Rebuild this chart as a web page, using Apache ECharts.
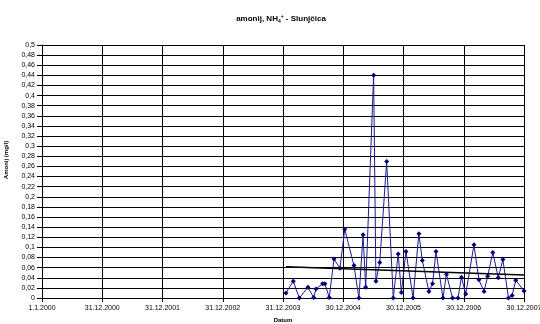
<!DOCTYPE html>
<html>
<head>
<meta charset="utf-8">
<script src="https://cdn.jsdelivr.net/npm/echarts@6/dist/echarts.min.js"></script>
<style>
  html, body { margin: 0; padding: 0; background: #fff; }
  #chart { width: 540px; height: 324px; }
</style>
</head>
<body>
<div id="chart"></div>
<script>
// Sampling dates and ammonium concentrations (mg/l)
const sampleDates = [
  '2004-01-18', '2004-03-02', '2004-04-08', '2004-05-30', '2004-07-04', '2004-07-18',
  '2004-08-27', '2004-09-10', '2004-10-06', '2004-11-04', '2004-12-10', '2005-01-08',
  '2005-03-05', '2005-04-04', '2005-04-29', '2005-05-15', '2005-07-02', '2005-07-16',
  '2005-08-08', '2005-09-19', '2005-10-29', '2005-11-28', '2005-12-17', '2006-01-14',
  '2006-02-26', '2006-04-02', '2006-04-23', '2006-06-02', '2006-06-24', '2006-07-15',
  '2006-08-26', '2006-09-16', '2006-10-23', '2006-11-25', '2006-12-16', '2007-01-11',
  '2007-03-02', '2007-04-01', '2007-05-02', '2007-05-24', '2007-06-24', '2007-07-27',
  '2007-08-24', '2007-09-27', '2007-10-19', '2007-11-10', '2007-12-30'
];
const ammonium = [
  0.010, 0.033, 0.000, 0.021, 0.001, 0.018,
  0.028, 0.028, 0.001, 0.077, 0.059, 0.136,
  0.064, 0.000, 0.125, 0.021, 0.440, 0.033,
  0.070, 0.270, 0.000, 0.087, 0.011, 0.092,
  0.000, 0.127, 0.074, 0.013, 0.028, 0.092,
  0.000, 0.047, 0.000, 0.000, 0.041, 0.008,
  0.105, 0.036, 0.013, 0.043, 0.090, 0.040,
  0.076, 0.000, 0.005, 0.035, 0.014
];

const titleMain = 'amonij, NH';
const titleSub = '4';
const titleSup = '+';
const titleTail = ' - Slunjčica';
const xName = 'Datum';
const yName = 'Amonij (mg/l)';

// day offsets from 1.1.2000
const DAY = 86400000;
const origin = Date.UTC(2000, 0, 1);
function dayOffset(s) {
  const p = s.split('-').map(Number);
  return Math.round((Date.UTC(p[0], p[1] - 1, p[2]) - origin) / DAY);
}
function dayLabel(v) {
  const d = new Date(origin + v * DAY);
  return d.getUTCDate() + '.' + (d.getUTCMonth() + 1) + '.' + d.getUTCFullYear();
}

const points = sampleDates.map((s, i) => [dayOffset(s), ammonium[i]]);

// least-squares linear trend over the sampled period
const n = points.length;
const mx = points.reduce((a, p) => a + p[0], 0) / n;
const my = points.reduce((a, p) => a + p[1], 0) / n;
let sxy = 0, sxx = 0;
points.forEach(p => { sxy += (p[0] - mx) * (p[1] - my); sxx += (p[0] - mx) * (p[0] - mx); });
const slope = sxy / sxx;
const x0 = points[0][0], x1 = points[n - 1][0];
const trend = [[x0, my + slope * (x0 - mx)], [x1, my + slope * (x1 - mx)]];

const font = 'Liberation Sans, Arial, sans-serif';
const chart = echarts.init(document.getElementById('chart'), null, { renderer: 'canvas' });
chart.setOption({
  animation: false,
  backgroundColor: '#fff',
  title: {
    text: '{b|' + titleMain + '}{s|' + titleSub + '}{p|' + titleSup + '}{b|' + titleTail + '}',
    left: 276, top: 9, textAlign: 'center',
    textStyle: {
      rich: {
        b: { fontFamily: font, fontSize: 8, fontWeight: 'bold', color: '#000' },
        s: { fontFamily: font, fontSize: 5, fontWeight: 'bold', color: '#000', verticalAlign: 'bottom', padding: [4, 0, 0, 0] },
        p: { fontFamily: font, fontSize: 5, fontWeight: 'bold', color: '#000', verticalAlign: 'top', padding: [0, 0, 5, 0] }
      }
    }
  },
  grid: { left: 42, right: 16, top: 45, bottom: 26, containLabel: false, outerBoundsMode: 'none' },
  xAxis: {
    type: 'value', min: 0, max: 2920, interval: 365,
    name: xName, nameLocation: 'middle', nameGap: 18,
    nameTextStyle: { fontFamily: font, fontSize: 6, fontWeight: 'bold', color: '#000' },
    axisLine: { show: true, lineStyle: { color: '#000', width: 1 } },
    axisTick: { show: true, length: 4, lineStyle: { color: '#000' } },
    axisLabel: { formatter: dayLabel, fontFamily: font, fontSize: 7, color: '#000', margin: 7, showMaxLabel: true, showMinLabel: true, hideOverlap: false },
    splitLine: { show: true, lineStyle: { color: '#000', width: 1 } }
  },
  yAxis: {
    type: 'value', min: 0, max: 0.5, interval: 0.02,
    axisLine: { show: true, lineStyle: { color: '#000', width: 1 } },
    axisTick: { show: true, length: 5, lineStyle: { color: '#000' } },
    axisLabel: {
      formatter: v => String(Math.round(v * 100) / 100).replace('.', ','),
      fontFamily: font, fontSize: 7, color: '#000', margin: 7
    },
    splitLine: { show: true, lineStyle: { color: '#000', width: 1 } }
  },
  graphic: [{
    type: 'text', x: 6, y: 160, rotation: Math.PI / 2,
    style: { text: yName, fontFamily: font, fontSize: 6, fontWeight: 'bold', fill: '#000', align: 'center', verticalAlign: 'middle' }
  }],
  series: [
    {
      type: 'line', data: points,
      lineStyle: { color: '#1c1c8e', width: 1 },
      itemStyle: { color: '#000080' },
      symbol: 'diamond', symbolSize: 5, showSymbol: true,
      z: 3
    },
    {
      type: 'line', data: trend,
      lineStyle: { color: '#000', width: 1.5 },
      symbol: 'none', z: 4
    }
  ]
});
</script>
</body>
</html>
